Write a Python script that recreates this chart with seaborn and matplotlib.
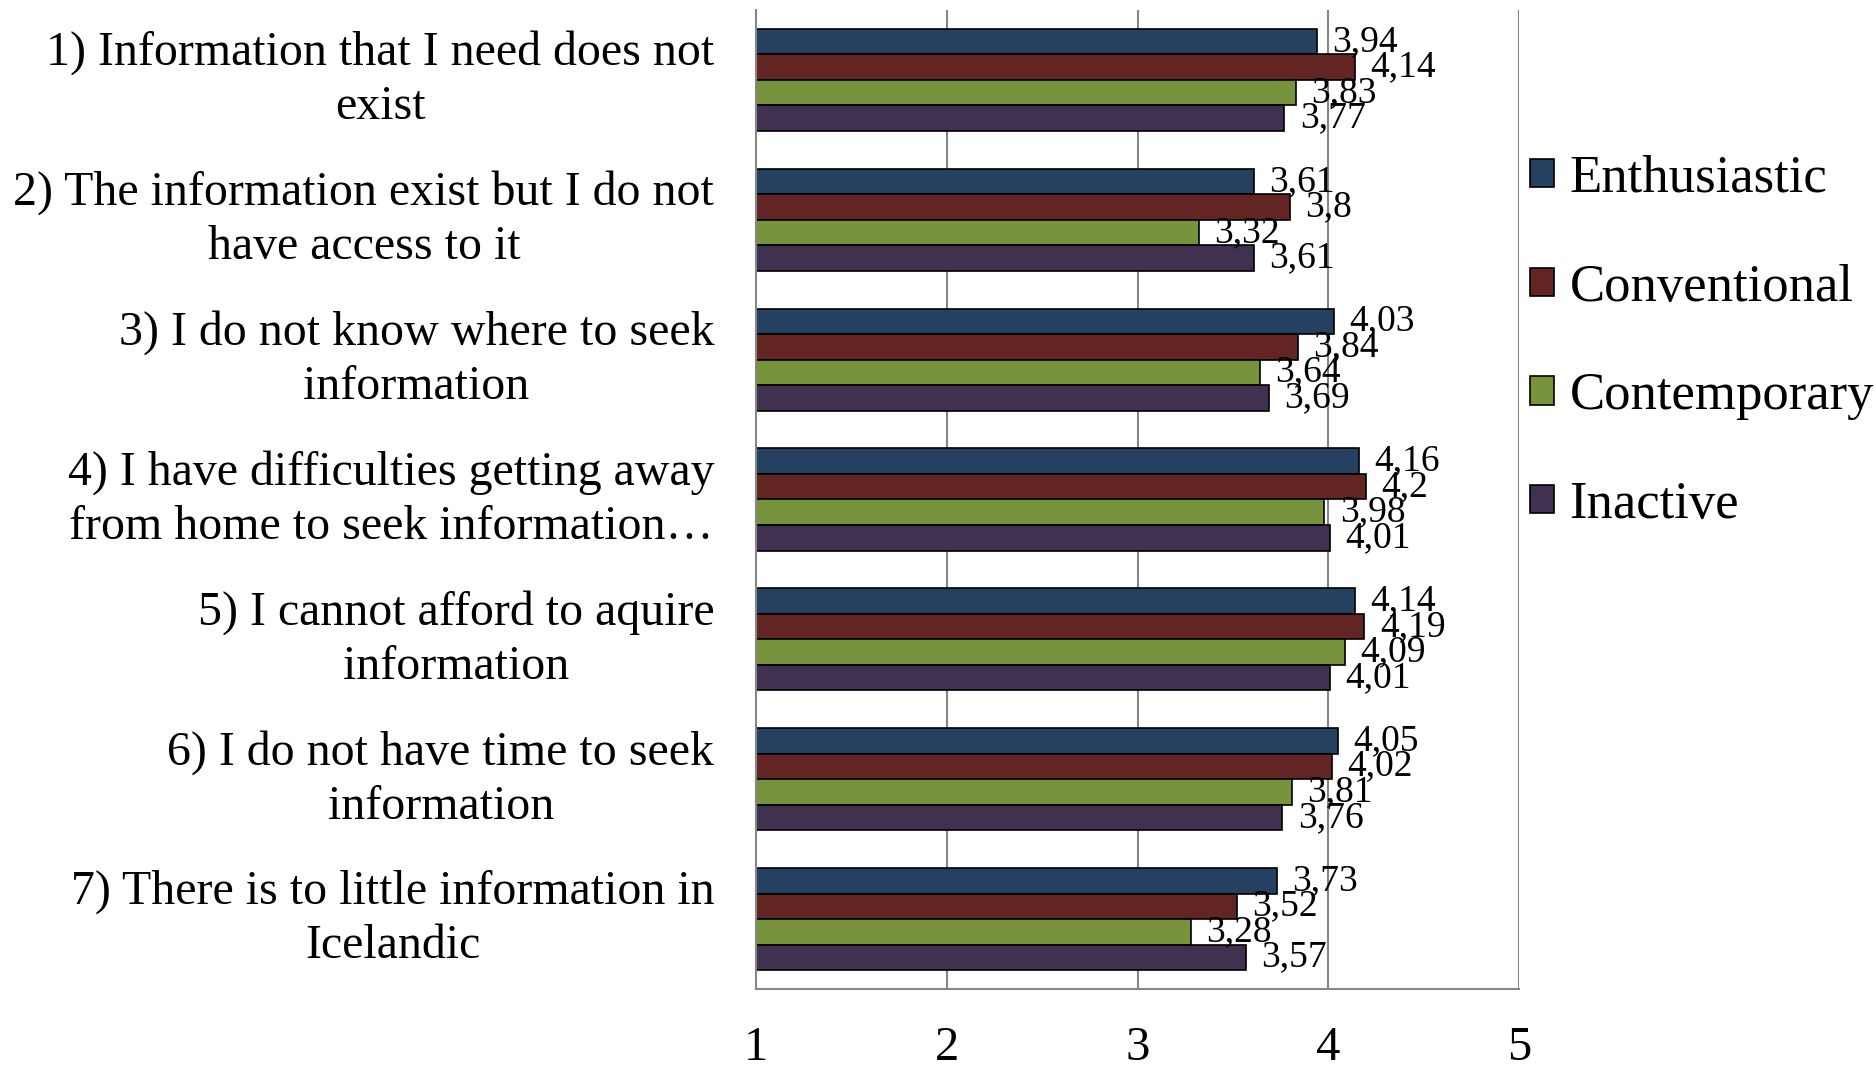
import numpy as np
import pandas as pd
import seaborn as sns
import matplotlib.pyplot as plt
from matplotlib.patches import Patch

# Barriers to information seeking, mean score (1-5) by user group
categories = [
    "1) Information that I need does not\nexist",
    "2) The information exist but I do not\nhave access to it",
    "3) I do not know where to seek\ninformation",
    "4) I have difficulties getting away\nfrom home to seek information\u2026",
    "5) I cannot afford to aquire\ninformation",
    "6) I do not have time to seek\ninformation",
    "7) There is to little information in\nIcelandic",
]
groups = ["Enthusiastic", "Conventional", "Contemporary", "Inactive"]

enthusiastic = [3.94, 3.61, 4.03, 4.16, 4.14, 4.05, 3.73]
conventional = [4.14, 3.80, 3.84, 4.20, 4.19, 4.02, 3.52]
contemporary = [3.83, 3.32, 3.64, 3.98, 4.09, 3.81, 3.28]
inactive = [3.77, 3.61, 3.69, 4.01, 4.01, 3.76, 3.57]

colors = ["#254061", "#632523", "#77933C", "#403151"]
x_ticks = [1, 2, 3, 4, 5]

series = [enthusiastic, conventional, contemporary, inactive]
df = pd.DataFrame(
    [(c, g, v) for g, vals in zip(groups, series) for c, v in zip(categories, vals)],
    columns=["category", "group", "value"],
)

sns.set_style("white")
plt.rcParams["font.family"] = ["Liberation Serif", "DejaVu Serif"]
plt.rcParams["text.color"] = "black"
plt.rcParams["xtick.labelcolor"] = "black"
plt.rcParams["ytick.labelcolor"] = "black"

fig = plt.figure(figsize=(18.76, 10.73), dpi=100)
ax = fig.add_axes([0.403, 0.0783, 0.8097 - 0.403, 0.9907 - 0.0783])

sns.barplot(
    data=df, y="category", x="value", hue="group", orient="h",
    order=categories, hue_order=groups, palette=colors,
    width=0.73, edgecolor="black", linewidth=1.2, saturation=1,
    legend=False, ax=ax,
)

ax.set_xlim(1, 5)
ax.set_ylim(len(categories) - 0.5, -0.5)
ax.set_xlabel("")
ax.set_ylabel("")

grid_c = "#868686"
ax.set_xticks(x_ticks)
ax.set_xticklabels([str(t) for t in x_ticks], fontsize=35)
for t in x_ticks[1:]:
    ax.axvline(t, color=grid_c, lw=1.5, zorder=0)

for side in ["top", "right"]:
    ax.spines[side].set_visible(False)
for side in ["left", "bottom"]:
    ax.spines[side].set_color(grid_c)
    ax.spines[side].set_linewidth(1.5)

ax.tick_params(axis="x", direction="out", length=10, width=1.5, color=grid_c, pad=17)
ax.tick_params(axis="y", which="major", length=0, pad=30)
ax.set_yticks(np.arange(-0.5, len(categories)), minor=True)
ax.tick_params(axis="y", which="minor", direction="out", length=9, width=1.5, color=grid_c)
for lab in ax.get_yticklabels():
    lab.set_fontsize(34.5)
    lab.set_multialignment("center")
    lab.set_verticalalignment("center")
    lab.set_linespacing(1.3)

for cont, vals in zip(ax.containers, series):
    ax.bar_label(cont, labels=[f"{v:g}".replace(".", ",") for v in vals],
                 padding=11, fontsize=27)

handles = [Patch(facecolor=c, edgecolor="black", linewidth=1.2) for c in colors]
fig.legend(
    handles, groups, loc="upper left",
    bbox_to_anchor=(1530 / 1876, 1 - 155 / 1073),
    frameon=False, fontsize=38, handlelength=0.45, handleheight=0.45,
    handletextpad=0.3, labelspacing=1.15, borderpad=0, borderaxespad=0,
)

fig.savefig("out.png", dpi=100)
